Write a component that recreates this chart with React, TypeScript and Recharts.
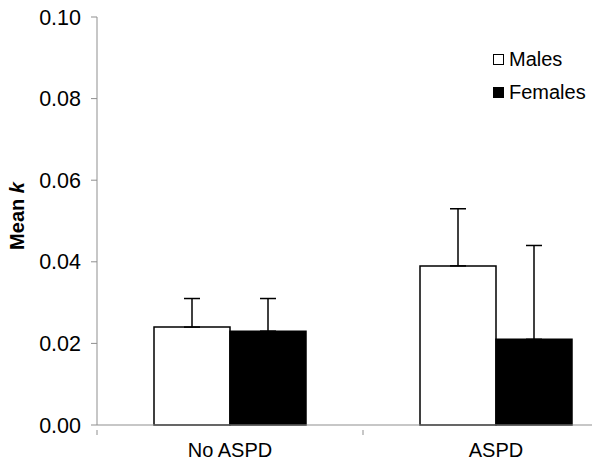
import React from 'react';
import { BarChart, Bar, XAxis, YAxis, ErrorBar, Legend } from 'recharts';

if (typeof document !== 'undefined') {
  document.body.style.margin = '0';
}

const CATEGORIES = ['No ASPD', 'ASPD'];
const MALES = [0.024, 0.039];
const FEMALES = [0.023, 0.021];
const MALES_ERR = [0.007, 0.014];
const FEMALES_ERR = [0.008, 0.023];
const Y_TICKS = [0, 0.02, 0.04, 0.06, 0.08, 0.1];

const FONT = '"Liberation Sans", Arial, sans-serif';
const AXIS_GREY = '#8f8f8f';

const data = CATEGORIES.map((name, i) => ({
  name,
  males: MALES[i],
  females: FEMALES[i],
  // upward-only error bars: [below, above]
  malesErr: [0, MALES_ERR[i]],
  femalesErr: [0, FEMALES_ERR[i]],
}));

const SERIES = [
  { key: 'Males', fill: '#ffffff' },
  { key: 'Females', fill: '#000000' },
];

function LegendBox() {
  return (
    <div style={{ fontFamily: FONT, fontSize: 20, color: '#000' }}>
      {SERIES.map((s) => (
        <div key={s.key} style={{ display: 'flex', alignItems: 'center', height: 32.5 }}>
          <span
            style={{
              display: 'inline-block',
              width: 11,
              height: 11,
              boxSizing: 'border-box',
              background: s.fill,
              border: '1.5px solid #000',
              marginRight: 5,
            }}
          />
          <span>{s.key}</span>
        </div>
      ))}
    </div>
  );
}

// category label at band centre, tick mark at band boundary (Excel style)
function CategoryTick(props: any) {
  const { x, y, payload } = props;
  const axisY = y - 13;
  const bx = x - (payload.offset || 0);
  return (
    <g>
      <line x1={bx} y1={axisY} x2={bx} y2={axisY + 5} stroke={AXIS_GREY} strokeWidth={1} />
      <text x={x} y={y} dy="0.71em" textAnchor="middle" fontFamily={FONT} fontSize={20} fill="#000">
        {payload.value}
      </text>
    </g>
  );
}

function YLabel(props: any) {
  const { viewBox } = props;
  const cx = viewBox.x + 24;
  const cy = viewBox.y + viewBox.height / 2 - 5;
  return (
    <text
      x={cx}
      y={cy}
      transform={`rotate(-90, ${cx}, ${cy})`}
      textAnchor="middle"
      fontFamily={FONT}
      fontSize={20}
      fontWeight="bold"
      fill="#000"
    >
      <tspan>Mean </tspan>
      <tspan fontStyle="italic">k</tspan>
    </text>
  );
}

export default function App() {
  return (
    <div style={{ width: 601, height: 466, background: '#fff' }}>
      <BarChart
        width={592}
        height={466}
        data={data}
        margin={{ top: 17, right: -37, left: 0, bottom: 0 }}
        barGap={0}
      >
        <XAxis
          dataKey="name"
          height={41}
          axisLine={{ stroke: AXIS_GREY, strokeWidth: 1 }}
          tickLine={false}
          tickMargin={13}
          tickSize={5}
          tick={<CategoryTick />}
          interval={0}
        />
        <YAxis
          width={97}
          domain={[0, 0.1]}
          ticks={Y_TICKS}
          interval={0}
          tickFormatter={(v: number) => v.toFixed(2)}
          axisLine={{ stroke: AXIS_GREY, strokeWidth: 1 }}
          tickLine={{ stroke: AXIS_GREY, strokeWidth: 1 }}
          tickSize={6}
          tickMargin={10}
          tick={{ fontFamily: FONT, fontSize: 21.5, fill: '#000' }}
          label={<YLabel />}
        />
        <Legend
          layout="horizontal"
          verticalAlign="middle"
          align="center"
          content={() => <LegendBox />}
          wrapperStyle={{ position: 'absolute', top: 43.5, left: 493, width: 110, height: 66 }}
        />
        <Bar
          dataKey="males"
          name="Males"
          fill="#ffffff"
          stroke="#000"
          strokeWidth={1.5}
          barSize={76}
          isAnimationActive={false}
        >
          <ErrorBar dataKey="malesErr" width={8} stroke="#000" strokeWidth={1.5} />
        </Bar>
        <Bar
          dataKey="females"
          name="Females"
          fill="#000000"
          stroke="#000"
          strokeWidth={1.5}
          barSize={76}
          isAnimationActive={false}
        >
          <ErrorBar dataKey="femalesErr" width={8} stroke="#000" strokeWidth={1.5} />
        </Bar>
      </BarChart>
    </div>
  );
}
